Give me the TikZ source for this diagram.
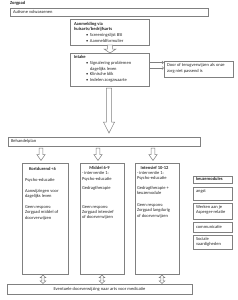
\documentclass[tikz,border=0pt]{standalone}
\usepackage{fontspec}
\setmainfont{Carlito}
\usetikzlibrary{arrows.meta,calc,fit}
\definecolor{ln}{gray}{0.5}
\definecolor{tx}{gray}{0.15}
\newcommand\fs{\fontsize{4.5}{5.3}\selectfont}
\newcommand\blkdown[6]{%
  \draw[blk] ({#1-#5},#2) -- ({#1+#5},#2) -- ({#1+#5},#3) -- ({#1+#6},#3) -- (#1,#4)
    -- ({#1-#6},#3) -- ({#1-#5},#3) -- cycle;}
\newcommand\blkdouble[3]{%
  \draw[blk] (#1,#2) -- ({#1+2.8},{#2+2.6}) -- ({#1+1.1},{#2+2.6}) -- ({#1+1.1},{#3-2.6})
    -- ({#1+2.8},{#3-2.6}) -- (#1,#3) -- ({#1-2.8},{#3-2.6}) -- ({#1-1.1},{#3-2.6})
    -- ({#1-1.1},{#2+2.6}) -- ({#1-2.8},{#2+2.6}) -- cycle;}
\newcommand\bul{\makebox[4pt][l]{\textbullet}}
\newcommand\nob{\makebox[4pt][l]{}}
\begin{document}
\begin{tikzpicture}[x=1pt,y=-1pt,font=\fs,
  every node/.style={inner sep=0pt,outer sep=0pt,text=tx},
  box/.style={draw=ln,line width=0.5pt,rectangle},
  txt/.style={anchor=north west,align=left},
  ttl/.style={anchor=north,align=center,font=\fs\bfseries},
  blk/.style={draw=ln,fill=white,line width=0.5pt,line join=miter},
  con/.style={draw=ln,line width=0.5pt,-{Straight Barb[length=1.6pt,width=3pt]}}]
\useasboundingbox[fill=white] (0,0) rectangle (238,300);

\node[txt,font=\fs\bfseries] (zp) at (10,1.6) {Zorgpad};
\node[box,fit={(10,8) (208,16)}] (av) {};
\node[txt] (avt) at (13,10.1) {Autisme volwassenen};

% Aanmelding
\node[box,fit={(70,19) (149,45)}] (aan) {};
\node[txt,font=\fs\bfseries] (aant) at (74,22.2) {Aanmelding via\\huisarts/bedrijfsarts};
\node[txt] (aanb) at (86,33.6) {\bul Screeningslijst BSI\\\bul Aanmeldformulier};

% Intake
\node[box,fit={(70,53) (149,86)}] (int) {};
\node[txt,font=\fs\bfseries] (intt) at (74,55.2) {Intake};
\node[txt] (intb) at (86,61.7) {\bul Signalering problemen\\\nob dagelijks leven\\[0.3pt]\bul Klinische blik\\[0.2pt]\bul Indelen zorgzwaarte};

% Door of terugverwijzen
\node[box,fit={(164,61) (233,77)}] (door) {};
\node[txt] (doort) at (167,63.6) {Door of terugverwijzen als onze\\zorg niet passend is};
\draw[con] ($(int.north east)+(0,9.5)$) -- ($(door.north west)+(0,1.5)$);
\draw[con] ($(int.north east)+(0,15)$) -- ($(door.north west)+(0,7)$);

% block arrows top
\blkdown{110}{45}{49}{53}{2.7}{6}
\blkdown{109}{88}{122}{133}{2.7}{5.6}

% Behandelplan
\node[box,fit={(8,137) (200,146)}] (bp) {};
\node[txt] (bpt) at (11,139.7) {Behandelplan};

\blkdown{41}{148}{154.5}{160.5}{1.8}{4.2}
\blkdown{98}{148}{154.5}{160.5}{1.8}{4.2}
\blkdown{153}{148}{154.5}{160.5}{1.8}{4.2}

% three columns
\node[box,fit={(22,163) (68,274)}] (k1) {};
\node[box,fit={(80,163) (124,274)}] (k2) {};
\node[box,fit={(135,163) (179,274)}] (k3) {};
\node[ttl] (k1t) at (42.5,167.2) {Kortdurend <6};
\node[ttl] (k2t) at (99.5,166.7) {Middel 6-9};
\node[ttl] (k3t) at (154.5,166.2) {Intensief 10-12};
\node[txt] (k1b) at (25,178.2) {Psycho-educatie\\[5.7pt]Aanwijzingen voor\\dagelijks leven\\[5.7pt]Geen respons:\\Zorgpad middel of\\doorverwijzen};
\node[txt] (k2b) at (82,171.7) {- interventie 1:\\Psycho-educatie\\[4.5pt]Gedragtherapie\\[13pt]Geen respons:\\Zorgpad intensief\\of doorverwijzen};
\node[txt] (k3b) at (137,171.2) {- interventie 1:\\Psycho-educatie\\[4.7pt]Gedragtherapie +\\keuzemodule\\[6.4pt]Geen respons:\\Zorgpad langdurig\\of doorverwijzen};

% keuzemodules
\node[box,fit={(193,176) (232,183)}] (km) {};
\node[txt,font=\fs\bfseries] (kmt) at (196,177.7) {keuzemodules};
\node[box,fit={(193,187) (232,200)}] (m1) {};
\node[txt] (m1t) at (196,189.2) {angst};
\node[box,fit={(193,203) (232,219)}] (m2) {};
\node[txt] (m2t) at (196,205.2) {Werken aan je\\Asperger-relatie};
\node[box,fit={(193,222) (232,232)}] (m3) {};
\node[txt] (m3t) at (196,225.2) {communicatie};
\node[box,fit={(193,235) (232,249)}] (m4) {};
\node[txt] (m4t) at (196,237.2) {Sociale\\vaardigheden};

% bottom
\node[box,fit={(7,284) (192,294)}] (med) {};
\node[anchor=center] (medt) at (med.center) {Eventuele doorverwijzing naar arts voor medicatie};
\blkdouble{43}{275}{283.5}
\blkdouble{102}{275}{283.5}
\blkdouble{162}{275}{283.5}
\end{tikzpicture}
\end{document}
